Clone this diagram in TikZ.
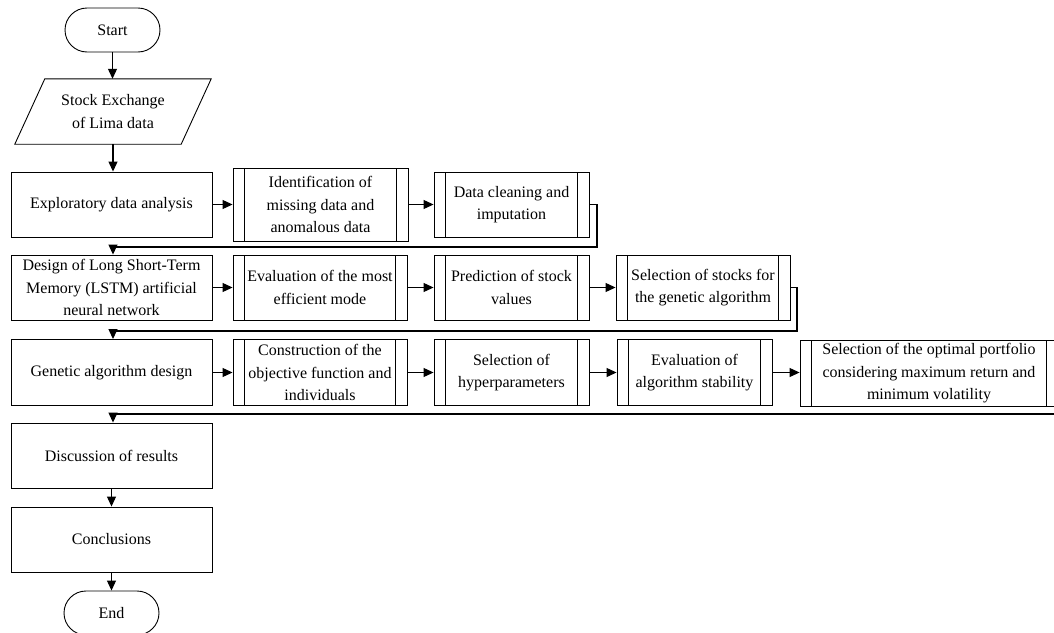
\documentclass[tikz,border=0pt]{standalone}
\usepackage{fontspec}
\setmainfont{Liberation Serif}
\usetikzlibrary{arrows.meta}
\tikzset{
  base/.style={draw=black, line width=0.9pt, align=center, inner sep=0pt,
    font=\fontsize{16}{22.5}\selectfont, minimum height=65pt},
  procbox/.style={base, rectangle},
  subbox/.style={base, rectangle, path picture={
    \draw[line width=0.9pt] ([xshift=11.5pt]path picture bounding box.north west) -- ([xshift=11.5pt]path picture bounding box.south west);
    \draw[line width=0.9pt] ([xshift=-11.5pt]path picture bounding box.north east) -- ([xshift=-11.5pt]path picture bounding box.south east);}},
  termbox/.style={base, rectangle, rounded corners=22pt, minimum width=95pt, minimum height=44pt},
  conn/.style={line width=1.1pt, -{Triangle[length=10pt,width=9pt]}},
}
\begin{document}
\begin{tikzpicture}[x=1pt,y=-1pt]
\path[use as bounding box, clip] (0,0) rectangle (1054,632);

\node[termbox] (start) at (112.5,30) {Start};
\node[inner sep=0pt, minimum width=166pt, minimum height=65pt, align=center,
  font=\fontsize{16}{22.5}\selectfont] (data) at (113,111.5) {Stock Exchange\\of Lima data};
\draw[line width=0.9pt] ([xshift=15pt]data.north west) -- ([xshift=15pt]data.north east)
  -- ([xshift=-15pt]data.south east) -- ([xshift=-15pt]data.south west) -- cycle;

\node[procbox, minimum width=201pt] (eda) at (111.5,204.5) {Exploratory data analysis};
\node[subbox, minimum width=175pt, minimum height=73pt] (ident) at (320.5,204.5) {Identification of\\missing data and\\anomalous data};
\node[subbox, minimum width=155pt] (clean) at (511.5,204.5) {Data cleaning and\\imputation};

\node[procbox, minimum width=201pt] (lstm) at (111.5,287.5) {Design of Long Short-Term\\Memory (LSTM) artificial\\neural network};
\node[subbox, minimum width=174pt] (evalm) at (320,287.5) {Evaluation of the most\\efficient mode};
\node[subbox, minimum width=155pt] (pred) at (511.5,287.5) {Prediction of stock\\values};
\node[subbox, minimum width=174pt] (selst) at (703,287.5) {Selection of stocks for\\the genetic algorithm};

\node[procbox, minimum width=201pt, minimum height=66pt] (ga) at (111.5,372.5) {Genetic algorithm design};
\node[subbox, minimum width=174pt, minimum height=66pt] (constr) at (320,372.5) {Construction of the\\objective function and\\individuals};
\node[subbox, minimum width=155pt, minimum height=66pt] (hyper) at (511.5,372.5) {Selection of\\hyperparameters};
\node[subbox, minimum width=155pt, minimum height=66pt] (evals) at (694.5,372.5) {Evaluation of\\algorithm stability};
\node[subbox, minimum width=258pt, minimum height=66pt] (port) at (929,373.5) {Selection of the optimal portfolio\\considering maximum return and\\minimum volatility};

\node[procbox, minimum width=201pt] (disc) at (111.5,455.5) {Discussion of results};
\node[procbox, minimum width=201pt] (concl) at (111.5,539.5) {Conclusions};
\node[termbox] (end) at (111.5,613) {End};

\coordinate (c1a) at (597,204.5);
\coordinate (c1b) at (597,247);
\coordinate (c1c) at (113,247);
\coordinate (c2a) at (797,287.5);
\coordinate (c2b) at (797,331);
\coordinate (c2c) at (113,331);
\coordinate (c3a) at (1064,373.5);
\coordinate (c3b) at (1064,414);
\coordinate (c3c) at (113,414);

\draw[conn] (start.south) -- (start.south |- data.north);
\draw[conn] (data.south) -- (data.south |- eda.north);
\draw[conn] (eda.east) -- (ident.west |- eda.east);
\draw[conn] (ident.east |- clean.west) -- (clean.west);
\draw[conn] (clean.east) -- (c1a) -- (c1b) -- (c1c) -- (c1c |- lstm.north);

\draw[conn] (lstm.east) -- (evalm.west);
\draw[conn] (evalm.east) -- (pred.west);
\draw[conn] (pred.east) -- (selst.west);
\draw[conn] (selst.east) -- (c2a) -- (c2b) -- (c2c) -- (c2c |- ga.north);

\draw[conn] (ga.east) -- (constr.west);
\draw[conn] (constr.east) -- (hyper.west);
\draw[conn] (hyper.east) -- (evals.west);
\draw[conn] (evals.east) -- (evals.east -| port.west);
\draw[conn] (port.east) -- (c3a) -- (c3b) -- (c3c) -- (c3c |- disc.north);

\draw[conn] (disc.south) -- (concl.north);
\draw[conn] (concl.south) -- (end.north);
\end{tikzpicture}
\end{document}
